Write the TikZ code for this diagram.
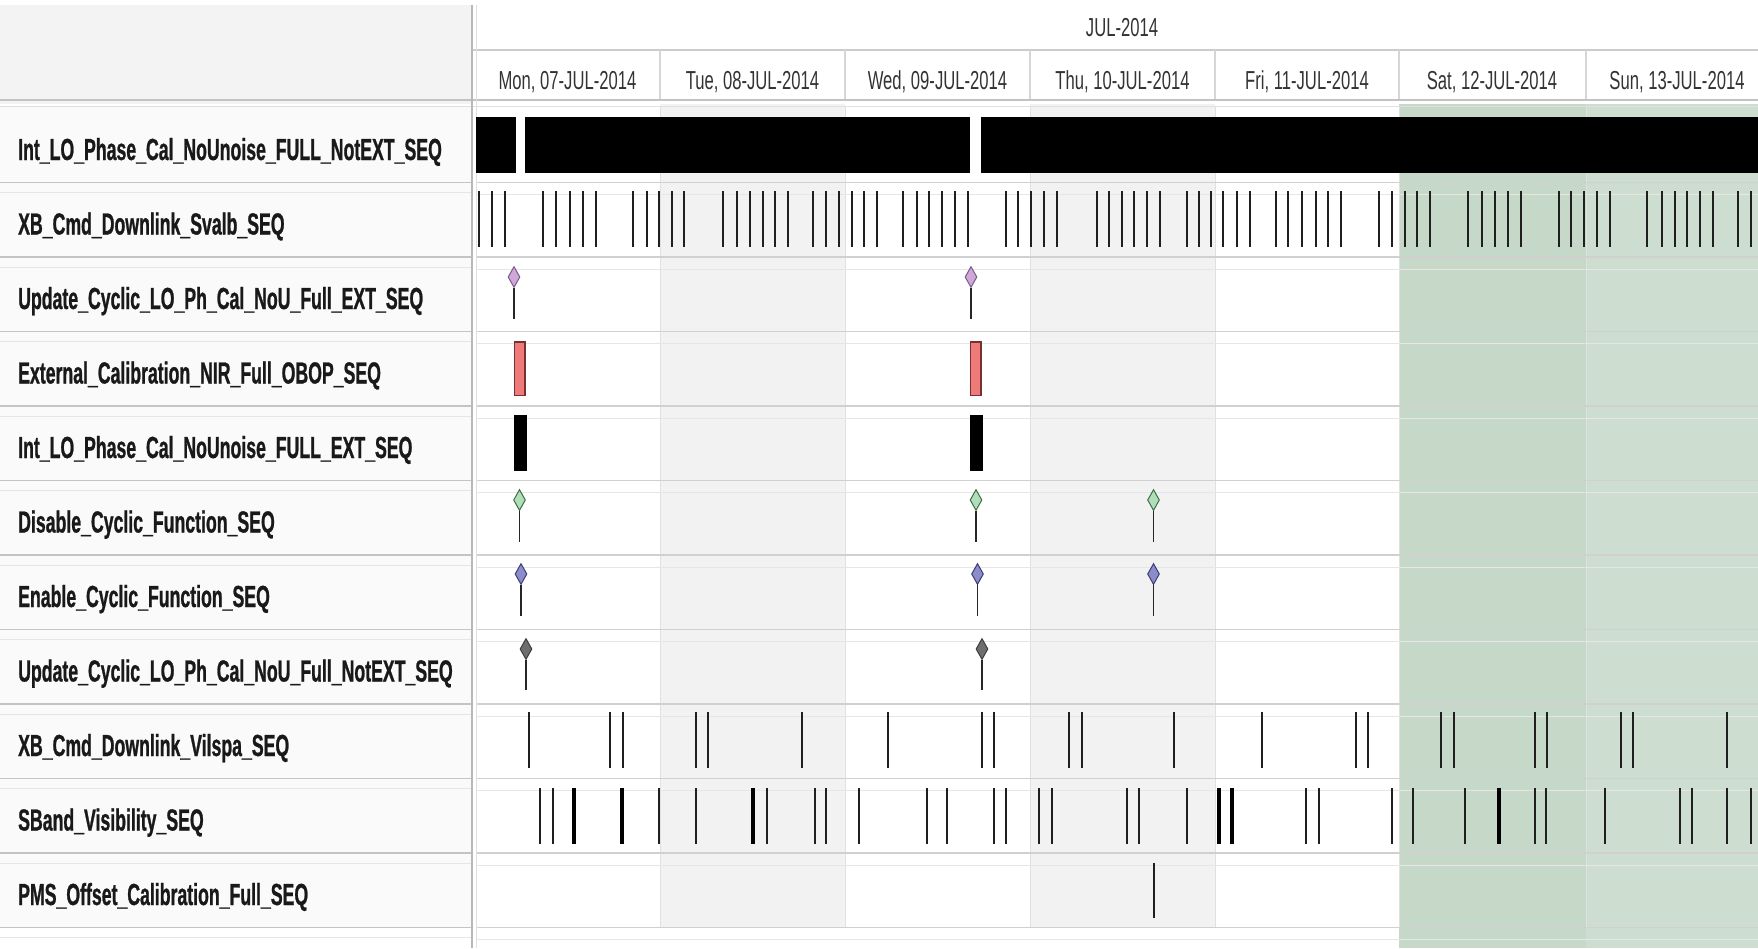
\documentclass[tikz,border=0pt]{standalone}
\usepackage{fontspec}
\usetikzlibrary{shapes.geometric}
\newfontfamily\lblfont[FakeStretch=0.58,FakeBold=0.8]{Liberation Sans}
\newfontfamily\dayfont[FakeStretch=0.64]{Liberation Sans}
\definecolor{hdrgray}{RGB}{243,243,243}
\definecolor{lblbg}{RGB}{250,250,250}
\definecolor{daygray}{RGB}{242,242,242}
\definecolor{satgreen}{RGB}{198,216,200}
\definecolor{sungreen}{RGB}{205,221,208}
\definecolor{sepgray}{RGB}{208,208,208}
\definecolor{sepfaint}{RGB}{230,230,230}
\definecolor{lblsep}{RGB}{196,196,196}
\definecolor{calfill}{RGB}{238,122,122}
\definecolor{caldraw}{RGB}{120,48,48}
\definecolor{pinpurple}{RGB}{208,168,216}
\definecolor{pinpurpled}{RGB}{120,90,140}
\definecolor{pingreen}{RGB}{176,222,184}
\definecolor{pingreend}{RGB}{60,110,70}
\definecolor{pinblue}{RGB}{140,140,200}
\definecolor{pinblued}{RGB}{60,60,120}
\definecolor{pingray}{RGB}{110,110,110}
\definecolor{pingrayd}{RGB}{60,60,60}
\begin{document}
\begin{tikzpicture}[x=1pt,y=-1pt,
  lbl/.style={anchor=base west, inner sep=0pt, font=\lblfont\bfseries\fontsize{30.5}{32}\selectfont, text=black!90},
  daylbl/.style={anchor=base, inner sep=0pt, font=\dayfont\fontsize{26}{28}\selectfont, text=black!80},
  tickmark/.style={line width=2pt, black!88},
  thicktick/.style={line width=3.6pt, black},
  pinstem/.style={line width=1.6pt, black!85},
  pinhead/.style={diamond, inner sep=0pt, minimum width=12pt, minimum height=21pt, line width=1pt},
  rowsep/.style={draw=sepgray, line width=1.6pt},
  rowfaint/.style={draw=sepfaint, line width=1pt},
  lblrule/.style={draw=lblsep, line width=1.8pt},
  bar/.style={fill=black},
  calbox/.style={fill=calfill, draw=caldraw, line width=1.4pt},
  daysep/.style={draw=black!12, line width=1pt}
]
\useasboundingbox (0,0) rectangle (1758,948);
% backgrounds
\fill[white] (0,0) rectangle (1758,948);
\fill[hdrgray] (0,5) rectangle (472,104);
\fill[lblbg] (0,106) rectangle (472,928);
\fill[daygray] (660,104) rectangle (845,928);
\fill[daygray] (1030,104) rectangle (1215,928);
\fill[satgreen] (1399,104) rectangle (1586,948);
\fill[sungreen] (1586,104) rectangle (1758,948);
% day boundaries in the chart
\foreach \x in {660,845,1030,1215,1399,1586}
  \draw[daysep] (\x,106) -- (\x,928);
% header lines
\draw[draw=black!20, line width=1.4pt] (472,50) -- (1758,50);
\foreach \x in {660,845,1030,1215,1399,1586}
  \draw[draw=black!16, line width=1.2pt] (\x,50) -- (\x,100);
\draw[draw=black!24, line width=1.6pt] (0,100) -- (1758,100);
\draw[draw=black!12, line width=1pt] (0,106) -- (1758,106);
% row separators
\foreach \y in {182.5,257,331.5,406,480.5,555,629.5,704,778.5,853,927.5} {
  \draw[rowsep] (476,\y) -- (1758,\y);
  \draw[rowfaint] (476,\y+12) -- (1758,\y+12);
  \draw[lblrule] (0,\y) -- (472,\y);
  \draw[rowfaint] (0,\y+10) -- (472,\y+10);
}
% vertical divider
\draw[draw=black!28, line width=1.6pt] (472,5) -- (472,948);
\draw[draw=black!12, line width=1pt] (476,5) -- (476,948);
% header texts
\node[daylbl] (month) at (1122,36) {JUL-2014};
\node[daylbl] (d1) at (567.5,89) {Mon, 07-JUL-2014};
\node[daylbl] (d2) at (752.5,89) {Tue, 08-JUL-2014};
\node[daylbl] (d3) at (937.5,89) {Wed, 09-JUL-2014};
\node[daylbl] (d4) at (1122.5,89) {Thu, 10-JUL-2014};
\node[daylbl] (d5) at (1307,89) {Fri, 11-JUL-2014};
\node[daylbl] (d6) at (1492,89) {Sat, 12-JUL-2014};
\node[daylbl] (d7) at (1677,89) {Sun, 13-JUL-2014};
% row labels
\node[lbl] (r1) at (18,160) {Int\_LO\_Phase\_Cal\_NoUnoise\_FULL\_NotEXT\_SEQ};
\node[lbl] (r2) at (18,234.5) {XB\_Cmd\_Downlink\_Svalb\_SEQ};
\node[lbl] (r3) at (18,309) {Update\_Cyclic\_LO\_Ph\_Cal\_NoU\_Full\_EXT\_SEQ};
\node[lbl] (r4) at (18,383.5) {External\_Calibration\_NIR\_Full\_OBOP\_SEQ};
\node[lbl] (r5) at (18,458) {Int\_LO\_Phase\_Cal\_NoUnoise\_FULL\_EXT\_SEQ};
\node[lbl] (r6) at (18,532.5) {Disable\_Cyclic\_Function\_SEQ};
\node[lbl] (r7) at (18,607) {Enable\_Cyclic\_Function\_SEQ};
\node[lbl] (r8) at (18,681.5) {Update\_Cyclic\_LO\_Ph\_Cal\_NoU\_Full\_NotEXT\_SEQ};
\node[lbl] (r9) at (18,756) {XB\_Cmd\_Downlink\_Vilspa\_SEQ};
\node[lbl] (r10) at (18,830.5) {SBand\_Visibility\_SEQ};
\node[lbl] (r11) at (18,905) {PMS\_Offset\_Calibration\_Full\_SEQ};
% row 1: bars
\fill[bar] (476,117) rectangle (516,173);
\fill[bar] (525,117) rectangle (970,173);
\fill[bar] (981,117) rectangle (1758,173);
% row 2: ticks
\foreach \x in {479,492,505, 543,556,570,583,596, 633,647,659,672,684,
  723,737,750,763,775,788, 813,826,839,852,864,877, 903,917,929,942,955,968,
  1006,1018,1031,1044,1057, 1097,1109,1122,1134,1147,1160,
  1187,1199,1211,1223,1237,1250, 1276,1288,1302,1316,1328,1341,
  1379,1392,1405,1417,1430, 1468,1482,1495,1508,1521,
  1559,1571,1584,1597,1610, 1647,1662,1675,1687,1700,1713, 1738,1751}
  \draw[tickmark] (\x,191) -- (\x,247);
% row 3: purple pins
\foreach \x/\n in {514/a,971/b} {
  \node[pinhead, fill=pinpurple, draw=pinpurpled] (p3\n) at (\x,277) {};
  \draw[pinstem] (p3\n.south) -- (\x,319);
}
% row 4: calibration boxes
\draw[calbox] (514.5,342) rectangle (525,395.5);
\draw[calbox] (970.5,342) rectangle (981,395.5);
% row 5: black boxes
\fill[bar] (514,415) rectangle (527,471);
\fill[bar] (970,415) rectangle (982.5,471);
% row 6: green pins
\foreach \x/\n in {519.5/a,976/b,1153.5/c} {
  \node[pinhead, fill=pingreen, draw=pingreend] (p6\n) at (\x,500) {};
  \draw[pinstem] (p6\n.south) -- (\x,542);
}
% row 7: blue pins
\foreach \x/\n in {521/a,977.5/b,1153.5/c} {
  \node[pinhead, fill=pinblue, draw=pinblued] (p7\n) at (\x,574) {};
  \draw[pinstem] (p7\n.south) -- (\x,616);
}
% row 8: gray pins
\foreach \x/\n in {526/a,982/b} {
  \node[pinhead, fill=pingray, draw=pingrayd] (p8\n) at (\x,649) {};
  \draw[pinstem] (p8\n.south) -- (\x,690);
}
% row 9: ticks
\foreach \x in {529,610,623,696,708,802,888,982,994,1069,1082,1174,1262,
  1356,1368,1441,1454,1535,1547,1621,1633,1727}
  \draw[tickmark] (\x,712) -- (\x,768);
% row 10: ticks
\foreach \x in {540,553,659,696,767,815,826,859,927,947,994,1006,1039,1052,
  1127,1139,1187,1306,1319,1392,1413,1465,1535,1546,1605,1680,1692,1727,1751}
  \draw[tickmark] (\x,788) -- (\x,844);
\foreach \x in {574,622,753,1219,1232,1499}
  \draw[thicktick] (\x,788) -- (\x,844);
% row 11
\draw[tickmark] (1153.5,863) -- (1153.5,918);
\end{tikzpicture}
\end{document}
